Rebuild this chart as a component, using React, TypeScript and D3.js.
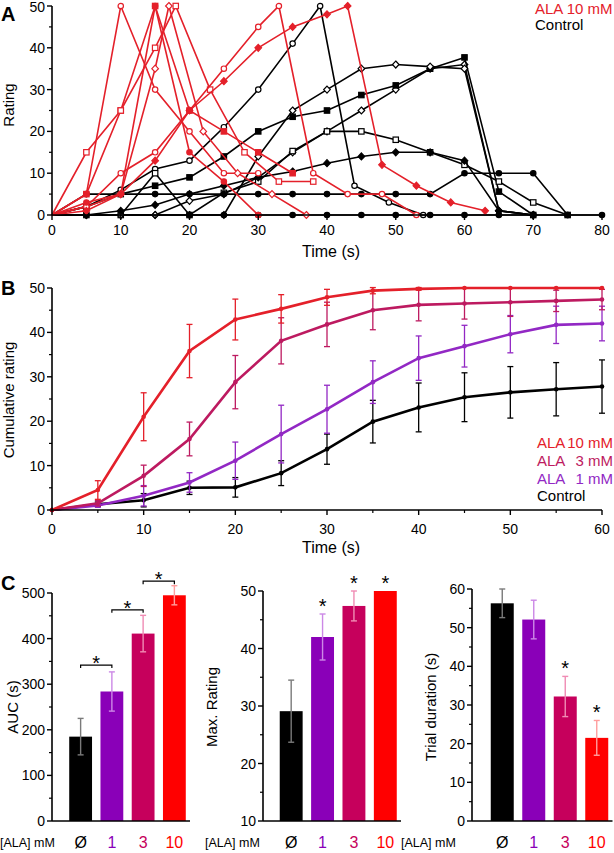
import * as d3 from "d3";

const FONT = "'Liberation Sans', Arial, Helvetica, sans-serif";
const RED = "#e4202a";
const MAGENTA = "#bd1a60";
const PURPLE = "#9228c4";

// ---------- Panel A: single trials [time (s), rating]
type Pt = [number, number];
const alaTrial1: Pt[] = [[0, 0], [5, 5], [10, 50], [15, 30], [20, 20], [25, 10], [30, 10]];
const alaTrial2: Pt[] = [[0, 0], [5, 5], [10, 25], [15, 50], [20, 25], [25, 20], [30, 15], [35, 10]];
const alaTrial3: Pt[] = [[0, 0], [5, 2], [10, 5], [15, 35], [17, 50], [22, 20], [27, 10], [32, 5], [37, 0]];
const alaTrial4: Pt[] = [[0, 0], [5, 15], [10, 25], [15, 40], [18, 50], [23, 30], [28, 15], [33, 8], [38, 8]];
const alaTrial5: Pt[] = [[0, 0], [5, 2], [10, 10], [15, 15], [20, 25], [25, 35], [30, 45], [33, 50], [38, 10], [43, 5], [48, 5], [53, 0]];
const alaTrial6: Pt[] = [[0, 0], [5, 1], [10, 5], [15, 13], [20, 25], [25, 32], [30, 40], [35, 45], [40, 48], [43, 50], [48, 12], [53, 7], [58, 3], [63, 1]];
const alaTrial7: Pt[] = [[0, 0], [5, 3], [10, 5], [15, 50], [20, 15], [25, 8], [30, 0]];
const alaTrials = [alaTrial1, alaTrial2, alaTrial3, alaTrial4, alaTrial5, alaTrial6, alaTrial7];
const alaMarkers = ["circleOpen", "squareFilled", "diamondOpen", "squareOpen", "circleOpen", "diamondFilled", "circleFilled"];

const ctrlTrial1: Pt[] = [[0, 0], [5, 2], [10, 6], [15, 11], [20, 13], [25, 21], [30, 30], [35, 41], [39, 50], [44, 7], [49, 3], [54, 0]];
const ctrlTrial2: Pt[] = [[0, 0], [5, 0], [10, 0], [15, 0], [20, 3.4], [25, 5], [30, 9], [35, 15], [40, 20], [45, 25], [50, 30], [55, 35], [60, 36], [65, 1], [70, 0]];
const ctrlTrial3: Pt[] = [[0, 0], [5, 2], [10, 5], [15, 7], [20, 9], [25, 14], [30, 20], [35, 23.5], [40, 25], [45, 28.7], [50, 31], [55, 35], [60, 37.7], [65, 5.6], [70, 0]];
const ctrlTrial4: Pt[] = [[0, 0], [5, 0], [10, 0], [15, 10], [20, 0], [25, 5.3], [30, 8], [35, 15.3], [40, 20], [45, 20], [50, 18], [55, 15], [60, 12], [65, 8], [70, 3], [75, 0]];
const ctrlTrial5: Pt[] = [[0, 0], [5, 0], [10, 0], [15, 0], [20, 0], [25, 0], [30, 14], [35, 25], [40, 30], [45, 35], [50, 36], [55, 35.5], [60, 35], [65, 1], [70, 0]];
const ctrlTrial6: Pt[] = [[0, 0], [5, 0], [10, 1], [15, 2.4], [20, 5], [25, 7], [30, 9], [35, 10.4], [40, 12.4], [45, 14], [50, 15], [55, 15], [60, 13], [65, 1], [70, 0]];
const ctrlTrial7: Pt[] = [[0, 0], [5, 5], [10, 5], [15, 5], [20, 5], [25, 5], [30, 5], [35, 5], [40, 5], [45, 5], [50, 5], [55, 5], [60, 10], [65, 10], [70, 10], [75, 0]];
const ctrlTrial8: Pt[] = [[0, 0], [20, 0], [25, 0], [30, 0], [35, 0], [40, 0], [45, 0], [50, 0], [55, 0], [60, 0], [65, 0], [70, 0], [75, 0], [80, 0]];
const ctrlTrials = [ctrlTrial1, ctrlTrial2, ctrlTrial3, ctrlTrial4, ctrlTrial5, ctrlTrial6, ctrlTrial7, ctrlTrial8];
const ctrlMarkers = ["circleOpen", "diamondOpen", "squareFilled", "squareOpen", "diamondOpen", "diamondFilled", "circleFilled", "circleFilled"];

// ---------- Panel B: cumulative rating, mean and SEM
const timesB = [0, 5, 10, 15, 20, 25, 30, 35, 40, 45, 50, 55, 60];
const ctrlMean = [0, 1.3, 2.2, 5, 5.1, 8.3, 13.7, 19.9, 23.1, 25.4, 26.5, 27.2, 27.8];
const ctrlSem = [0, 0.5, 1.5, 1.5, 2.2, 2.8, 3.4, 4.8, 5.5, 5.5, 5.8, 6, 6];
const ala1Mean = [0, 1, 3.2, 6.2, 11.1, 17.1, 22.7, 28.8, 34.2, 36.9, 39.6, 41.7, 42];
const ala1Sem = [0, 0.4, 2.3, 2.2, 4.2, 6.5, 5.4, 4.8, 5, 4.7, 4.2, 4.2, 3.9];
const ala3Mean = [0, 1.5, 7.7, 16, 28.8, 38.1, 41.8, 45, 46.2, 46.5, 46.8, 47.1, 47.4];
const ala3Sem = [0, 0.6, 2.4, 3.8, 6, 5.2, 5, 4.4, 3.6, 3.5, 3.2, 2.4, 2.3];
const ala10Mean = [0, 4.5, 21, 35.8, 42.9, 45.3, 47.9, 49.4, 49.8, 50, 50, 50, 50];
const ala10Sem = [0, 2.1, 5.4, 6, 4.6, 3.2, 1.8, 0.7, 0.3, 0, 0, 0, 0];

// ---------- Panel C: bars
const doses = ["Ø", "1", "3", "10"];
const aucMean = [185, 284, 411, 495];
const aucSem = [40, 43, 40, 21];
const maxMean = [29.1, 42, 47.4, 50];
const maxSem = [5.4, 4, 2.6, 0];
const durMean = [56.3, 52.1, 32.2, 21.5];
const durSem = [3.7, 5, 5.2, 4.5];
const aucBrackets: [number, number, number][] = [[0, 1, 342], [1, 2, 463], [2, 3, 526]];
const maxStars = [1, 2, 3];
const durStars = [2, 3];

const doseColors = ["#000000", "#8a00b8", "#c6005c", "#ff0000"];
const errColors = ["#7a7a7a", "#cc88e6", "#f08cb4", "#ff9e9e"];

function Marker({ type, x, y, color }: { type: string; x: number; y: number; color: string }) {
  const fill = type.endsWith("Open") ? "#fff" : color;
  if (type.startsWith("circle"))
    return <circle cx={x} cy={y} r={2.7} fill={fill} stroke={color} strokeWidth={1.2} />;
  if (type.startsWith("square"))
    return <rect x={x - 2.7} y={y - 2.7} width={5.4} height={5.4} fill={fill} stroke={color} strokeWidth={1.2} />;
  return (
    <path d={`M${x},${y - 3.5}L${x + 3.3},${y}L${x},${y + 3.5}L${x - 3.3},${y}Z`}
      fill={fill} stroke={color} strokeWidth={1.2} />
  );
}

function YAxis({ scale, x, majors, minors }: { scale: d3.ScaleLinear<number, number>; x: number; majors: number[]; minors: number[] }) {
  const [a, b] = d3.extent(majors) as [number, number];
  return (
    <g>
      <line x1={x} x2={x} y1={scale(a)} y2={scale(b)} stroke="#000" strokeWidth={1.6} />
      {majors.map((v) => (
        <g key={"M" + v}>
          <line x1={x - 5} x2={x} y1={scale(v)} y2={scale(v)} stroke="#000" strokeWidth={1.4} />
          <text x={x - 7} y={Math.max(scale(v) + 5, 12)} textAnchor="end" fontSize={14}>{v}</text>
        </g>
      ))}
      {minors.map((v) => (
        <line key={"m" + v} x1={x - 3} x2={x} y1={scale(v)} y2={scale(v)} stroke="#000" strokeWidth={1.2} />
      ))}
    </g>
  );
}

function XAxis({ scale, y, majors, minors, labelY }: { scale: d3.ScaleLinear<number, number>; y: number; majors: number[]; minors: number[]; labelY: number }) {
  const [a, b] = scale.domain();
  return (
    <g>
      <line x1={scale(a)} x2={scale(b)} y1={y} y2={y} stroke="#000" strokeWidth={1.6} />
      {majors.map((v) => (
        <g key={"M" + v}>
          <line x1={scale(v)} x2={scale(v)} y1={y} y2={y + 5} stroke="#000" strokeWidth={1.4} />
          <text x={scale(v)} y={labelY} textAnchor="middle" fontSize={14}>{v}</text>
        </g>
      ))}
      {minors.map((v) => (
        <line key={"m" + v} x1={scale(v)} x2={scale(v)} y1={y} y2={y + 3} stroke="#000" strokeWidth={1.2} />
      ))}
    </g>
  );
}

function PanelA() {
  const x = d3.scaleLinear().domain([0, 80]).range([52, 602]);
  const y = d3.scaleLinear().domain([0, 50]).range([215, 6]);
  const line = d3.line<Pt>().x((d) => x(d[0])).y((d) => y(d[1]));
  const group = (trials: Pt[][], markers: string[], color: string, key: string) =>
    trials.map((tr, i) => (
      <g key={key + i}>
        <path d={line(tr) ?? ""} fill="none" stroke={color} strokeWidth={1.6} />
        {tr.slice(1).map((p, j) => (
          <Marker key={j} type={markers[i]} x={x(p[0])} y={y(p[1])} color={color} />
        ))}
      </g>
    ));
  return (
    <g>
      {group(ctrlTrials, ctrlMarkers, "#000", "c")}
      {group(alaTrials, alaMarkers, RED, "a")}
      <XAxis scale={x} y={215} majors={d3.range(0, 81, 10)} minors={d3.range(5, 80, 10)} labelY={235} />
      <YAxis scale={y} x={52} majors={d3.range(0, 51, 10)} minors={d3.range(5, 50, 10)} />
      <text transform="translate(14,105) rotate(-90)" textAnchor="middle" fontSize={15}>Rating</text>
      <text x={331} y={257} textAnchor="middle" fontSize={16}>Time (s)</text>
      <text x={1} y={21} fontSize={20} fontWeight="bold">A</text>
      <text x={535} y={14} fontSize={15} fill={RED}>ALA 10 mM</text>
      <text x={535} y={30} fontSize={15}>Control</text>
    </g>
  );
}

function PanelB() {
  const x = d3.scaleLinear().domain([0, 60]).range([52, 602]);
  const y = d3.scaleLinear().domain([0, 50]).range([510, 288]);
  const series = [
    { mean: ctrlMean, sem: ctrlSem, color: "#000" },
    { mean: ala1Mean, sem: ala1Sem, color: PURPLE },
    { mean: ala3Mean, sem: ala3Sem, color: MAGENTA },
    { mean: ala10Mean, sem: ala10Sem, color: RED },
  ];
  const line = d3.line<number>().x((_, i) => x(timesB[i])).y((d) => y(d));
  const legend = [
    { dose: "10 mM", color: RED, yy: 448 },
    { dose: "3 mM", color: MAGENTA, yy: 466 },
    { dose: "1 mM", color: PURPLE, yy: 484 },
  ];
  return (
    <g>
      {series.map((s, k) => (
        <g key={k}>
          {s.mean.map((m, i) =>
            s.sem[i] > 0 ? (
              <g key={i} stroke={s.color} strokeWidth={1.3}>
                <line x1={x(timesB[i])} x2={x(timesB[i])} y1={y(m - s.sem[i])} y2={y(m + s.sem[i])} />
                <line x1={x(timesB[i]) - 3} x2={x(timesB[i]) + 3} y1={y(m - s.sem[i])} y2={y(m - s.sem[i])} />
                <line x1={x(timesB[i]) - 3} x2={x(timesB[i]) + 3} y1={y(m + s.sem[i])} y2={y(m + s.sem[i])} />
              </g>
            ) : null
          )}
          <path d={line(s.mean) ?? ""} fill="none" stroke={s.color} strokeWidth={2.6} />
          {s.mean.map((m, i) => (
            <circle key={"p" + i} cx={x(timesB[i])} cy={y(m)} r={2.3} fill={s.color} />
          ))}
        </g>
      ))}
      <XAxis scale={x} y={510} majors={d3.range(0, 61, 10)} minors={d3.range(5, 60, 10)} labelY={534} />
      <YAxis scale={y} x={52} majors={d3.range(0, 51, 10)} minors={d3.range(5, 50, 10)} />
      <text transform="translate(14,400) rotate(-90)" textAnchor="middle" fontSize={15}>Cumulative rating</text>
      <text x={331} y={553} textAnchor="middle" fontSize={16}>Time (s)</text>
      <text x={1} y={295} fontSize={20} fontWeight="bold">B</text>
      {legend.map((l) => (
        <g key={l.dose} fill={l.color} fontSize={15}>
          <text x={537} y={l.yy}>ALA</text>
          <text x={613} y={l.yy} textAnchor="end">{l.dose}</text>
        </g>
      ))}
      <text x={537} y={501} fontSize={15}>Control</text>
    </g>
  );
}

function BarPanel(props: {
  axisX: number; band: [number, number]; domain: [number, number]; top: number;
  majors: number[]; minors: number[]; mean: number[]; sem: number[];
  title: string; titleX: number; labelX: number; stars?: number[]; brackets?: [number, number, number][];
}) {
  const { axisX, band, domain, top, majors, minors, mean, sem, title, titleX, labelX, stars, brackets } = props;
  const y = d3.scaleLinear().domain(domain).range([821, top]);
  const x = d3.scaleBand<string>().domain(doses).range(band).paddingInner(0.27).paddingOuter(0.135);
  const base = domain[0];
  const mid = (i: number) => (x(doses[i]) ?? 0) + x.bandwidth() / 2;
  return (
    <g>
      {doses.map((d, i) => (
        <g key={d}>
          <rect x={x(d)} y={y(mean[i])} width={x.bandwidth()} height={y(base) - y(mean[i])} fill={doseColors[i]} />
          {sem[i] > 0 && (
            <g stroke={errColors[i]} strokeWidth={1.4}>
              <line x1={mid(i)} x2={mid(i)} y1={y(mean[i] - sem[i])} y2={y(mean[i] + sem[i])} />
              <line x1={mid(i) - 3} x2={mid(i) + 3} y1={y(mean[i] - sem[i])} y2={y(mean[i] - sem[i])} />
              <line x1={mid(i) - 3} x2={mid(i) + 3} y1={y(mean[i] + sem[i])} y2={y(mean[i] + sem[i])} />
            </g>
          )}
          <text x={mid(i)} y={848} textAnchor="middle" fontSize={16} fill={doseColors[i]}>{d}</text>
        </g>
      ))}
      {(stars ?? []).map((i) => (
        <text key={"s" + i} x={mid(i)} y={y(mean[i] + sem[i]) - 1} textAnchor="middle" fontSize={20}>*</text>
      ))}
      {(brackets ?? []).map(([a, b, v]) => (
        <g key={"b" + a}>
          <path d={`M${mid(a)},${y(v) + 3}V${y(v)}H${mid(b)}V${y(v) + 3}`} fill="none" stroke="#000" strokeWidth={1.2} />
          <text x={(mid(a) + mid(b)) / 2} y={y(v) + 5} textAnchor="middle" fontSize={20}>*</text>
        </g>
      ))}
      <line x1={axisX} x2={band[1]} y1={821} y2={821} stroke="#000" strokeWidth={1.6} />
      <YAxis scale={y} x={axisX} majors={majors} minors={minors} />
      <text transform={`translate(${titleX},707) rotate(-90)`} textAnchor="middle" fontSize={15}>{title}</text>
      <text x={labelX} y={847} fontSize={12.5}>[ALA] mM</text>
    </g>
  );
}

export default function App() {
  return (
    <svg width={614} height={853} style={{ position: "absolute", left: 0, top: 0, background: "#fff" }}
      fontFamily={FONT}>
      <PanelA />
      <PanelB />
      <BarPanel axisX={52} band={[65, 190]} domain={[0, 500]} top={593}
        majors={d3.range(0, 501, 100)} minors={d3.range(50, 500, 100)} mean={aucMean} sem={aucSem}
        title="AUC (s)" titleX={18} labelX={0} brackets={aucBrackets} />
      <text x={1} y={590} fontSize={20} fontWeight="bold">C</text>
      <BarPanel axisX={263} band={[275.5, 401]} domain={[10, 50]} top={591}
        majors={d3.range(10, 51, 10)} minors={d3.range(15, 50, 10)} mean={maxMean} sem={maxSem}
        title="Max. Rating" titleX={217} labelX={205} stars={maxStars} />
      <BarPanel axisX={472} band={[486.5, 612.5]} domain={[0, 60]} top={589}
        majors={d3.range(0, 61, 10)} minors={d3.range(5, 60, 10)} mean={durMean} sem={durSem}
        title="Trial duration (s)" titleX={436} labelX={401} stars={durStars} />
    </svg>
  );
}
